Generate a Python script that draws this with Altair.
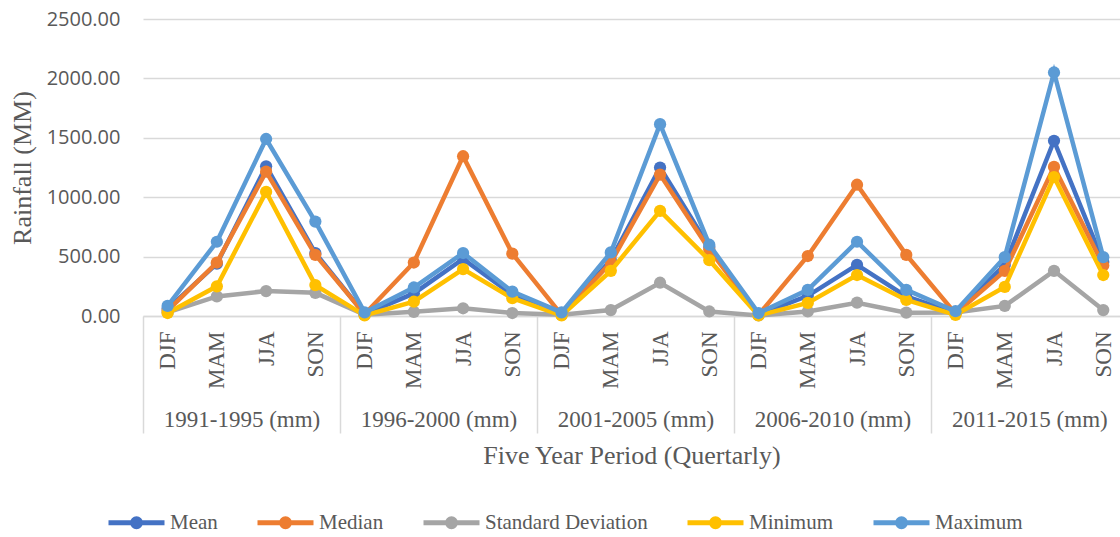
import altair as alt
import pandas as pd

# Categories
periods = ["1991-1995 (mm)", "1996-2000 (mm)", "2001-2005 (mm)", "2006-2010 (mm)", "2011-2015 (mm)"]
seasons = ["DJF", "MAM", "JJA", "SON"]

# Series (quarterly rainfall statistics, mm), 5 periods x 4 seasons
mean = [60, 440, 1260, 530,   15, 190, 480, 180,   15, 470, 1250, 580,   10, 170, 430, 165,   25, 430, 1475, 455]
median = [45, 450, 1215, 515,   15, 450, 1345, 525,   10, 450, 1190, 560,   10, 505, 1105, 515,   20, 380, 1255, 425]
std_dev = [30, 165, 210, 195,   10, 35, 65, 25,   10, 50, 280, 38,   5, 38, 112, 28,   30, 85, 380, 50]
minimum = [25, 250, 1045, 260,   5, 120, 395, 150,   5, 380, 885, 470,   5, 110, 345, 135,   10, 245, 1170, 345]
maximum = [85, 625, 1490, 795,   30, 240, 530, 205,   30, 535, 1615, 600,   25, 220, 625, 220,   40, 495, 2050, 495]

series_names = ["Mean", "Median", "Standard Deviation", "Minimum", "Maximum"]
series_colors = ["#4472C4", "#ED7D31", "#A5A5A5", "#FFC000", "#5B9BD5"]
series_values = [mean, median, std_dev, minimum, maximum]

rows = []
for name, vals in zip(series_names, series_values):
    for i, v in enumerate(vals):
        rows.append({"series": name, "idx": i, "value": v})
df = pd.DataFrame(rows)

TEXT = "#595959"
GRID = "#d9d9d9"
SERIF = "Liberation Serif"
SANS = "Open Sans"

xscale = alt.Scale(domain=[-0.5, 19.34], nice=False, zero=False)
yscale = alt.Scale(domain=[0, 2500], nice=False)

y_enc = alt.Y(
    "value:Q",
    scale=yscale,
    axis=alt.Axis(
        values=[0, 500, 1000, 1500, 2000, 2500],
        format=".2f",
        ticks=False,
        domain=False,
        grid=True,
        gridColor=GRID,
        gridWidth=1.5,
        labelFont=SANS,
        labelFontSize=20,
        labelColor=TEXT,
        labelPadding=23,
        title="Rainfall (MM)",
        titleFont=SERIF,
        titleFontSize=26,
        titleFontWeight="normal",
        titleColor=TEXT,
        titlePadding=11,
    ),
)

season_axis = alt.Axis(
    orient="bottom",
    values=list(range(20)),
    labelExpr="['DJF','MAM','JJA','SON'][datum.value % 4]",
    labelAngle=270,
    labelAlign="right",
    labelBaseline="middle",
    ticks=False,
    grid=False,
    domain=True,
    domainColor=GRID,
    domainWidth=1.5,
    labelPadding=15,
    labelFont=SERIF,
    labelFontSize=23,
    labelColor=TEXT,
    title=None,
)

legend_symbol = "M-1,0H1M0.143,0A0.143,0.143,0,1,1,-0.143,0A0.143,0.143,0,1,1,0.143,0Z"

color_enc = alt.Color(
    "series:N",
    scale=alt.Scale(domain=series_names, range=series_colors),
    legend=alt.Legend(
        orient="none",
        legendX=-37,
        legendY=473,
        direction="horizontal",
        title=None,
        symbolType=legend_symbol,
        symbolSize=3136,
        symbolStrokeWidth=5,
        labelFont=SERIF,
        labelFontSize=21,
        labelColor=TEXT,
        labelLimit=400,
        labelOffset=3,
        columnPadding=29,
        padding=0,
    ),
)

layers = []
for k, name in enumerate(series_names):
    x_enc = alt.X("idx:Q", scale=xscale, axis=season_axis if k == 0 else None)
    base = alt.Chart(df).transform_filter(alt.datum.series == name)
    layers.append(base.mark_line(strokeWidth=4.5).encode(x=x_enc, y=y_enc, color=color_enc))
    layers.append(
        base.mark_point(filled=True, size=150, opacity=1).encode(
            x=alt.X("idx:Q", scale=xscale, axis=None), y=y_enc, color=color_enc
        )
    )

# Period group labels under the season labels
group_centers = [1.5, 5.5, 9.5, 13.5, 17.5]
group_layer = alt.Chart(pd.DataFrame({"pos": group_centers})).mark_point(opacity=0).encode(
    x=alt.X(
        "pos:Q",
        scale=xscale,
        axis=alt.Axis(
            orient="bottom",
            values=group_centers,
            labelExpr="['1991-1995 (mm)','1996-2000 (mm)','2001-2005 (mm)','2006-2010 (mm)','2011-2015 (mm)'][(datum.value - 1.5) / 4]",
            ticks=False,
            domain=False,
            grid=False,
            labelPadding=92,
            labelFont=SERIF,
            labelFontSize=23,
            labelColor=TEXT,
            labelAngle=0,
            title="Five Year Period (Quertarly)",
            titleFont=SERIF,
            titleFontSize=26,
            titleFontWeight="normal",
            titleColor=TEXT,
            titlePadding=11,
        ),
    )
)

# Vertical separators between the periods
separators = [-0.5, 3.5, 7.5, 11.5, 15.5]
sep_layer = alt.Chart(pd.DataFrame({"pos": separators})).mark_point(opacity=0).encode(
    x=alt.X(
        "pos:Q",
        scale=xscale,
        axis=alt.Axis(
            orient="bottom",
            values=separators,
            ticks=True,
            tickSize=117,
            tickColor=GRID,
            tickWidth=1.5,
            labels=False,
            domain=False,
            grid=False,
            title=None,
        ),
    )
)

chart = (
    alt.layer(sep_layer, group_layer, *layers)
    .resolve_axis(x="independent")
    .properties(
        width=977,
        height=297,
        padding={"left": 143, "top": 19, "right": 0, "bottom": 221},
        autosize=alt.AutoSizeParams(type="none"),
        background="white",
    )
    .configure_view(stroke=None)
)

chart.save("out.html", embed_options={"renderer": "svg", "actions": False})
